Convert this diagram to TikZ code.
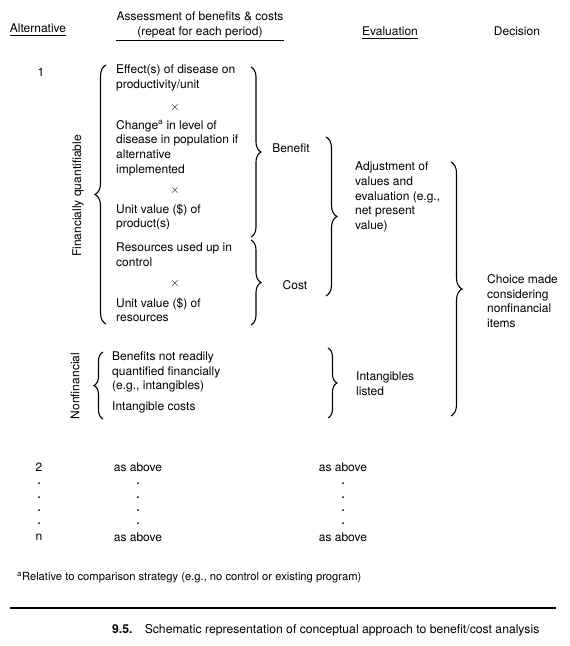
\documentclass[tikz,border=0pt]{standalone}
\usepackage{fontspec}
\setmainfont{TeX Gyre Heros}
\usetikzlibrary{decorations.pathreplacing}
\begin{document}
\begin{tikzpicture}[x=1pt,y=-1pt,
  txt/.style={font=\fontsize{12}{14.6}\selectfont, inner sep=0pt, align=left},
  ctr/.style={font=\fontsize{12}{14.6}\selectfont, inner sep=0pt, align=center},
  small/.style={font=\fontsize{11.2}{13}\selectfont, inner sep=0pt},
  brc/.style={decorate, decoration={brace, amplitude=#1}, line width=1.1pt},
  uline/.style={line width=1.2pt},
  dotmark/.style={circle, fill=black, inner sep=0pt, minimum size=2pt}]
\useasboundingbox (0,0) rectangle (570,646);
% header
\node[ctr] (alt) at (38,28) {Alternative};
\draw[uline] ([yshift=-3pt]alt.south west) -- ([yshift=-3pt]alt.south east);
\node[ctr] (ass) at (200,25) {Assessment of benefits \& costs\\(repeat for each period)};
\draw[uline] ([yshift=-2pt]ass.south west) -- ([yshift=-2pt]ass.south east);
\node[ctr] (eval) at (390,31) {Evaluation};
\draw[uline] ([yshift=-3pt]eval.south west) -- ([yshift=-3pt]eval.south east);
\node[ctr] (dec) at (517,31) {Decision};
% row 1
\node[ctr] (one) at (41,72) {1};
\node[ctr, rotate=90] (finq) at (78,196) {Financially quantifiable};
\node[txt, anchor=west] (e1) at (116,78) {Effect(s) of disease on\\productivity/unit};
\node[ctr] (x1) at (175,107) {$\times$};
\node[txt, anchor=west] (e2) at (116,148) {Change\textsuperscript{a} in level of\\disease in population if\\alternative\\implemented};
\node[ctr] (x2) at (175,190) {$\times$};
\node[txt, anchor=west] (e3) at (116,217) {Unit value (\$) of\\product(s)};
\node[txt, anchor=west] (e4) at (116,255) {Resources used up in\\control};
\node[ctr] (x3) at (175,283) {$\times$};
\node[txt, anchor=west] (e5) at (116,310) {Unit value (\$) of\\resources};
\coordinate (lbT) at (106,65);
\coordinate (lbB) at (106,324);
\draw[brc=11pt] (lbB) -- (lbT);
\coordinate (bbT) at (251,67);
\coordinate (bbB) at (251,237);
\draw[brc=10pt] (bbT) -- (bbB);
\node[ctr] (ben) at (291,148) {Benefit};
\coordinate (cbT) at (251,240);
\coordinate (cbB) at (251,325);
\draw[brc=10pt] (cbT) -- (cbB);
\node[ctr] (cost) at (295,285) {Cost};
\coordinate (ebT) at (326,137);
\coordinate (ebB) at (326,296);
\draw[brc=11pt] (ebT) -- (ebB);
\node[txt, anchor=west] (adj) at (355,197) {Adjustment of\\values and\\evaluation (e.g.,\\net present\\value)};
\coordinate (dbT) at (451,162);
\coordinate (dbB) at (451,416);
\draw[brc=11pt] (dbT) -- (dbB);
\node[txt, anchor=west] (cho) at (487,301) {Choice made\\considering\\nonfinancial\\items};
% nonfinancial
\node[ctr, rotate=90] (nonf) at (75,386) {Nonfinancial};
\coordinate (nlT) at (103,352);
\coordinate (nlB) at (103,419);
\draw[brc=9pt] (nlB) -- (nlT);
\node[txt, anchor=west] (nb) at (112,372) {Benefits not readily\\quantified financially\\(e.g., intangibles)};
\node[txt, anchor=west] (nc) at (112,407) {Intangible costs};
\coordinate (nrT) at (328,348);
\coordinate (nrB) at (328,418);
\draw[brc=9pt] (nrT) -- (nrB);
\node[txt, anchor=west] (il) at (356,384) {Intangibles\\listed};
% other alternatives
\node[ctr] (two) at (39,467) {2};
\node[ctr] (ab2) at (138,467) {as above};
\node[ctr] (ab2e) at (343,467) {as above};
\foreach \yy [count=\i] in {483,497,510,523}{
  \node[dotmark] (da\i) at (39,\yy) {};
  \node[dotmark] (db\i) at (138,\yy) {};
  \node[dotmark] (dc\i) at (343,\yy) {};
}
\node[ctr] (nn) at (39,537) {n};
\node[ctr] (abn) at (138,537) {as above};
\node[ctr] (abne) at (343,537) {as above};
\node[small, anchor=west] (fn) at (17,578) {\textsuperscript{a}Relative to comparison strategy (e.g., no control or existing program)};
% caption
\coordinate (rl) at (10,608);
\coordinate (rr) at (556,608);
\draw[line width=1.2pt] (rl) -- (rr);
\node[font=\fontsize{12.2}{14}\selectfont, inner sep=0pt, anchor=west] (cap) at (112,630) {\textbf{9.5.}\quad Schematic representation of conceptual approach to benefit/cost analysis};
\end{tikzpicture}
\end{document}
